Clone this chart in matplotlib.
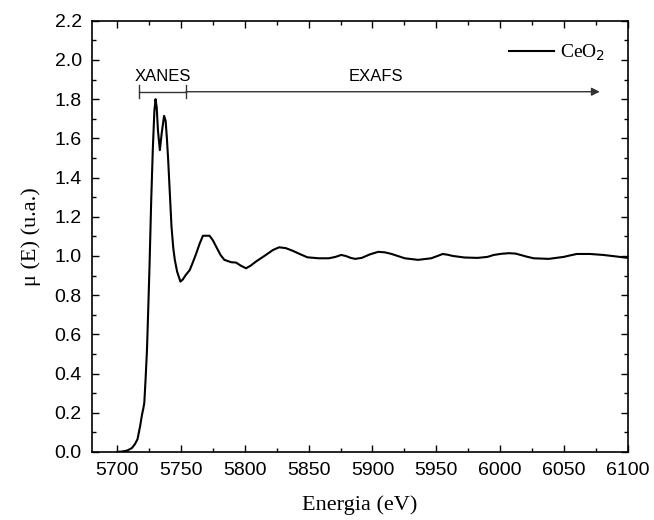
import matplotlib
matplotlib.use('Agg')
import matplotlib.pyplot as plt
from matplotlib.ticker import MultipleLocator

energia = [5700, 5704, 5708, 5711.5, 5714, 5716, 5718, 5719.5, 5720.5, 5721.3,
           5722.3, 5723.4, 5724.4, 5725.4, 5726.7, 5728, 5729.2, 5730.1, 5731, 5732,
           5733.5, 5735, 5736.8, 5738, 5739, 5740, 5741.3, 5742.6, 5744, 5745.2,
           5747, 5749.6, 5751.5, 5753.8, 5756.9, 5759.5, 5762, 5764.5, 5767.2, 5772.4,
           5775, 5777.6, 5781, 5784, 5789.3, 5793.2, 5797, 5801, 5804.5, 5808.7,
           5816.5, 5822, 5826.9, 5832, 5837.3, 5843, 5849, 5858, 5865.8, 5871,
           5875.5, 5879, 5883, 5886.4, 5891.6, 5898, 5904.6, 5910, 5915, 5925.3,
           5935.7, 5946, 5951, 5955, 5959, 5962.8, 5972, 5982.3, 5990, 5995,
           6001, 6007, 6012, 6016, 6021, 6026.3, 6038, 6049.7, 6055, 6060,
           6070.4, 6080.8, 6090, 6100]
mu = [0.000, 0.002, 0.007, 0.019, 0.040, 0.065, 0.13, 0.19, 0.22, 0.25,
      0.37, 0.52, 0.73, 0.95, 1.28, 1.55, 1.74, 1.80, 1.76, 1.64,
      1.54, 1.63, 1.715, 1.69, 1.60, 1.49, 1.32, 1.15, 1.04, 0.98,
      0.92, 0.869, 0.88, 0.903, 0.928, 0.97, 1.013, 1.06, 1.103, 1.103,
      1.08, 1.047, 1.005, 0.98, 0.968, 0.966, 0.950, 0.937, 0.950, 0.971,
      1.005, 1.03, 1.044, 1.040, 1.027, 1.01, 0.993, 0.988, 0.988, 0.995,
      1.005, 1.0, 0.99, 0.985, 0.99, 1.008, 1.021, 1.018, 1.01, 0.988,
      0.98, 0.988, 1.0, 1.01, 1.006, 1.0, 0.992, 0.99, 0.995, 1.005,
      1.011, 1.014, 1.012, 1.005, 0.996, 0.988, 0.985, 0.995, 1.003, 1.01,
      1.01, 1.005, 0.998, 0.99]

# regiones marcadas arriba
xanes = [5717.5, 5754]
exafs = [5754, 6078]
nivel = 1.838

fig = plt.figure(figsize=(6.54, 5.2), dpi=100)
ax = fig.add_axes([0.140, 0.131, 0.820, 0.829])

ax.plot(energia, mu, color='black', linewidth=1.5, label='CeO$_2$')

# barra XANES y flecha EXAFS
ax.plot(xanes, [nivel, nivel], color='#333333', linewidth=1.0)
for e in xanes:
	ax.plot([e, e], [nivel - 0.032, nivel + 0.032], color='#333333', linewidth=1.0)
ax.annotate('', xy=(exafs[1], nivel), xytext=(exafs[0], nivel),
            arrowprops=dict(arrowstyle='-|>', color='#333333', lw=1.0,
                            mutation_scale=12, shrinkA=0, shrinkB=0))
ax.text(sum(xanes) / 2, nivel + 0.04, 'XANES', ha='center', va='bottom',
        fontsize=12, family='Liberation Sans')
ax.text(5903, nivel + 0.04, 'EXAFS', ha='center', va='bottom',
        fontsize=12, family='Liberation Sans')

ax.set_xlim(5680, 6100)
ax.set_ylim(0, 2.2)
ax.xaxis.set_major_locator(MultipleLocator(50))
ax.xaxis.set_minor_locator(MultipleLocator(25))
ax.yaxis.set_major_locator(MultipleLocator(0.2))
ax.yaxis.set_minor_locator(MultipleLocator(0.1))
ax.yaxis.set_major_formatter(plt.FormatStrFormatter('%.1f'))

ax.tick_params(which='both', direction='in', top=True, right=True, width=1.0)
ax.tick_params(which='major', length=5, labelsize=14, pad=7)
ax.tick_params(which='minor', length=3)
for lab in ax.get_xticklabels() + ax.get_yticklabels():
	lab.set_family('Liberation Sans')
for s in ax.spines.values():
	s.set_linewidth(1.2)

ax.set_xlabel('Energia (eV)', fontsize=16, family='Liberation Serif', labelpad=12)
ax.set_ylabel('μ (E) (u.a.)', fontsize=16, family='Liberation Serif', labelpad=10)

leg = ax.legend(loc='upper right', frameon=False, handlelength=2.3, handletextpad=0.3,
                prop={'family': 'Liberation Serif', 'size': 14},
                bbox_to_anchor=(0.99, 0.99))

fig.savefig('out.png', dpi=100)
